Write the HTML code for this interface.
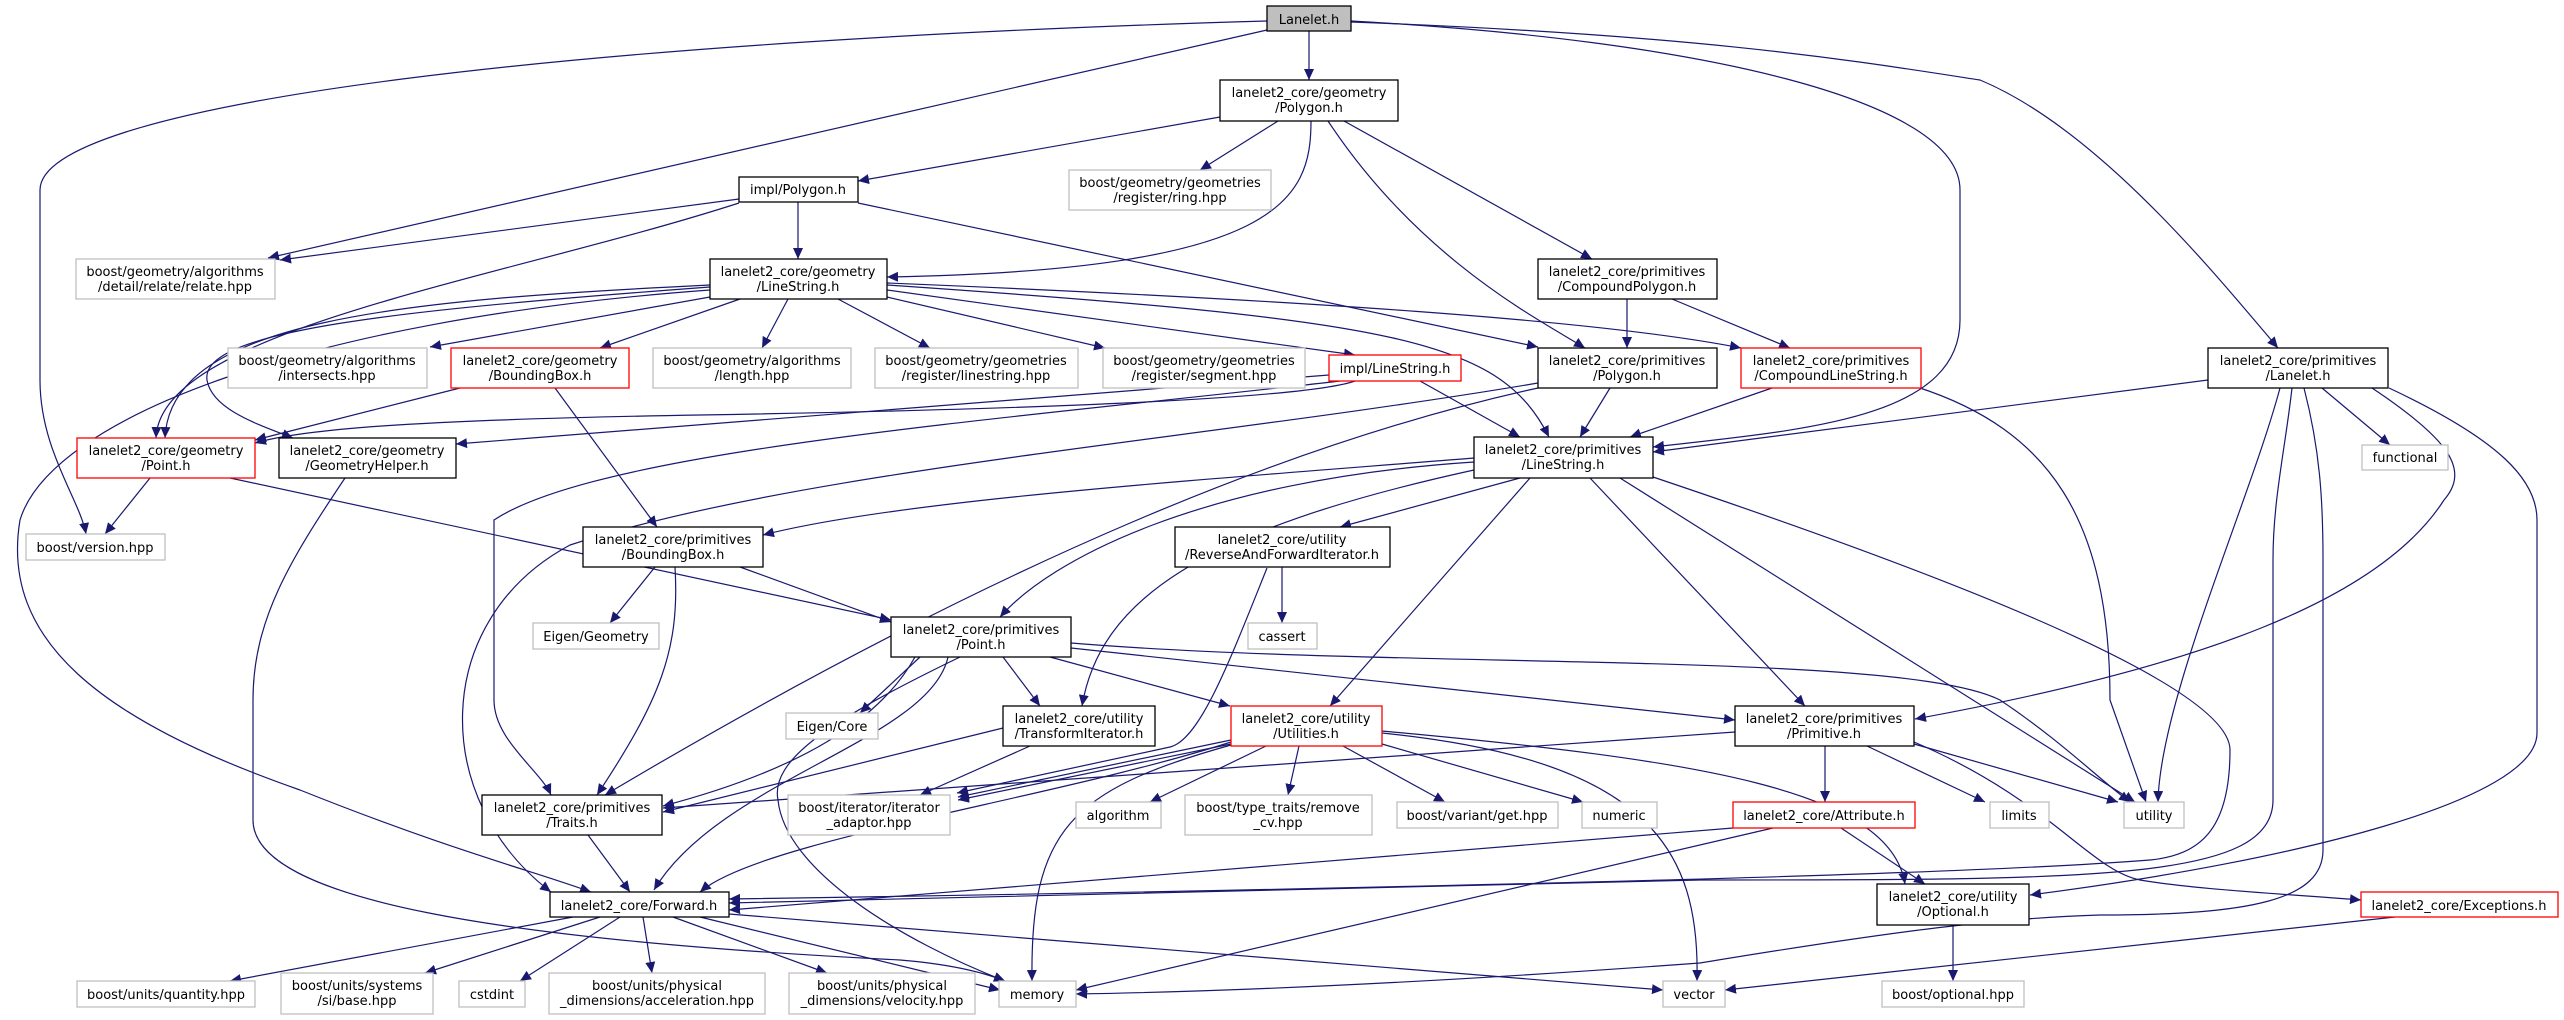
<!DOCTYPE html>
<html><head><meta charset="utf-8"><style>
html,body{margin:0;padding:0;background:#fff;}
svg{display:block;}
text{font-family:"DejaVu Sans","Liberation Sans",sans-serif;font-size:13px;fill:#000;text-anchor:middle;}
.e{fill:none;stroke:#191970;stroke-width:1.2;marker-end:url(#a);}
.n{fill:#fff;stroke:#000;stroke-width:1.3;}
.g{fill:#fff;stroke:#bfbfbf;stroke-width:1.3;}
.r{fill:#fff;stroke:#ff0000;stroke-width:1.3;}
</style></head><body>
<svg width="2564" height="1020" viewBox="0 0 2564 1020" xmlns="http://www.w3.org/2000/svg">
<defs><marker id="a" markerUnits="userSpaceOnUse" markerWidth="12" markerHeight="10" refX="11" refY="5" orient="auto"><path d="M0,0 L11,5 L0,10 z" fill="#191970"/></marker></defs>
<g>
<path class="e" d="M1309,31 L1309,80"/>
<path class="e" d="M1267,30 L268,258"/>
<path class="e" d="M1267,21 C600,40 40,100 40,190 L40,380 C40,450 80,500 86,534"/>
<path class="e" d="M1351,21 C1700,40 1960,100 1960,190 L1960,320 C1960,420 1800,430 1653,447"/>
<path class="e" d="M1351,22 C1700,35 1850,60 1980,80 C2100,130 2220,280 2278,348"/>
<path class="e" d="M1278,121 L1200,170"/>
<path class="e" d="M1311,121 C1311,200 1280,270 887,277"/>
<path class="e" d="M1220,117 L858,181"/>
<path class="e" d="M1328,121 C1420,260 1540,320 1585,348"/>
<path class="e" d="M1344,121 L1592,259"/>
<path class="e" d="M739,199 L280,260"/>
<path class="e" d="M798,202 L798,259"/>
<path class="e" d="M739,203 C500,280 160,330 156,438"/>
<path class="e" d="M858,203 L1538,347"/>
<path class="e" d="M710,297 L430,347"/>
<path class="e" d="M740,299 L600,348"/>
<path class="e" d="M788,299 L762,348"/>
<path class="e" d="M838,299 L930,348"/>
<path class="e" d="M887,297 L1105,348"/>
<path class="e" d="M887,290 L1355,355"/>
<path class="e" d="M887,285 C1400,320 1500,340 1549,437"/>
<path class="e" d="M887,283 C1300,300 1600,320 1741,348"/>
<path class="e" d="M710,285 C400,300 170,320 165,438"/>
<path class="e" d="M710,287 C400,310 200,330 207,380 C212,410 260,425 293,438"/>
<path class="e" d="M710,290 C300,320 50,420 20,520 C0,640 100,720 300,790 C450,850 530,870 591,892"/>
<path class="e" d="M150,478 L105,534"/>
<path class="e" d="M230,478 L891,620"/>
<path class="e" d="M345,478 C290,560 253,620 253,700 L253,820 C253,900 500,940 900,960 C960,965 990,975 1005,981"/>
<path class="e" d="M460,388 L255,440"/>
<path class="e" d="M555,388 L657,527"/>
<path class="e" d="M1355,381 C1300,400 1000,410 700,415 C400,420 300,430 255,443"/>
<path class="e" d="M1329,375 L456,444"/>
<path class="e" d="M1420,381 L1520,437"/>
<path class="e" d="M1340,381 C1000,420 600,450 494,520 L494,700 C494,740 540,770 551,795"/>
<path class="e" d="M1538,383 C1200,440 800,470 570,545 C430,620 430,800 551,892"/>
<path class="e" d="M1610,388 L1580,437"/>
<path class="e" d="M1538,388 C1300,440 1000,560 605,795"/>
<path class="e" d="M1627,299 L1627,348"/>
<path class="e" d="M1672,299 L1790,348"/>
<path class="e" d="M1772,388 L1630,437"/>
<path class="e" d="M1917,387 C2050,430 2110,520 2110,700 L2146,802"/>
<path class="e" d="M2208,380 L1653,452"/>
<path class="e" d="M2322,388 L2390,445"/>
<path class="e" d="M2280,388 C2250,500 2160,700 2158,802"/>
<path class="e" d="M2292,388 C2285,450 2273,500 2273,560 L2273,800 C2273,880 2100,880 1700,880 C1200,890 800,900 729,903"/>
<path class="e" d="M2304,388 C2320,450 2323,500 2323,560 L2323,850 C2323,900 2250,915 2100,915 C2000,918 1900,930 1700,963 C1400,985 1200,992 1076,994"/>
<path class="e" d="M2372,388 C2450,440 2470,470 2444,500 C2380,600 2200,667 1915,719"/>
<path class="e" d="M2389,388 C2500,440 2537,480 2537,520 L2537,733 C2537,800 2300,860 2030,895"/>
<path class="e" d="M1474,458 C1200,480 900,500 763,535"/>
<path class="e" d="M1520,478 L1340,527"/>
<path class="e" d="M1474,462 C1200,480 1050,560 1000,617"/>
<path class="e" d="M1474,470 C1200,530 1100,600 1082,706"/>
<path class="e" d="M1530,478 L1330,706"/>
<path class="e" d="M1590,478 L1805,706"/>
<path class="e" d="M1620,478 L2135,802"/>
<path class="e" d="M1653,477 C1900,560 2230,680 2230,750 C2230,830 2200,855 2150,860 C1900,880 1000,895 729,899"/>
<path class="e" d="M675,567 C680,650 660,700 597,795"/>
<path class="e" d="M655,567 L610,623"/>
<path class="e" d="M740,567 L891,622"/>
<path class="e" d="M1282,567 L1282,623"/>
<path class="e" d="M1267,568 C1230,660 1200,740 1170,747 L957,793"/>
<path class="e" d="M920,657 L860,713"/>
<path class="e" d="M1003,657 L1040,706"/>
<path class="e" d="M1050,657 L1230,706"/>
<path class="e" d="M1071,648 L1735,720"/>
<path class="e" d="M1071,643 C1400,670 1900,650 2000,700 C2060,740 2100,780 2130,802"/>
<path class="e" d="M915,657 C880,720 800,770 663,806"/>
<path class="e" d="M948,657 C930,740 720,780 654,890"/>
<path class="e" d="M960,657 C830,720 770,760 778,800 C785,870 900,940 1005,981"/>
<path class="e" d="M1030,746 L920,795"/>
<path class="e" d="M1003,728 L663,812"/>
<path class="e" d="M1231,740 L958,797"/>
<path class="e" d="M1231,744 L958,800"/>
<path class="e" d="M1231,742 C1050,800 760,840 700,892"/>
<path class="e" d="M1266,746 L1150,802"/>
<path class="e" d="M1299,746 L1288,795"/>
<path class="e" d="M1343,746 L1445,802"/>
<path class="e" d="M1382,744 L1583,802"/>
<path class="e" d="M1382,731 C1700,760 1890,790 1905,884"/>
<path class="e" d="M1382,733 C1650,760 1700,850 1697,981"/>
<path class="e" d="M1231,745 C1070,790 1030,830 1032,981"/>
<path class="e" d="M1825,746 L1825,802"/>
<path class="e" d="M1867,746 L1985,802"/>
<path class="e" d="M1914,744 L2118,802"/>
<path class="e" d="M1914,742 C2050,800 2090,870 2140,880 C2200,890 2300,895 2361,900"/>
<path class="e" d="M1735,732 L663,808"/>
<path class="e" d="M1733,828 L729,910"/>
<path class="e" d="M1773,828 L1076,990"/>
<path class="e" d="M1841,828 L1925,884"/>
<path class="e" d="M1953,925 L1953,981"/>
<path class="e" d="M2395,917 L1725,990"/>
<path class="e" d="M588,835 L630,892"/>
<path class="e" d="M573,917 L230,981"/>
<path class="e" d="M600,917 L425,973"/>
<path class="e" d="M620,917 L520,981"/>
<path class="e" d="M643,917 L652,973"/>
<path class="e" d="M673,917 L827,973"/>
<path class="e" d="M700,917 L1000,990"/>
<path class="e" d="M729,914 L1663,990"/>
</g>
<g>
<rect x="1267" y="6" width="84" height="25" fill="#bfbfbf" stroke="#000" stroke-width="1.3"/><text x="1309" y="24">Lanelet.h</text>
<rect class="n" x="1220" y="80" width="178" height="41"/><text x="1309" y="97">lanelet2_core/geometry</text><text x="1309" y="112">/Polygon.h</text>
<rect class="n" x="739" y="177" width="119" height="25"/><text x="798" y="194">impl/Polygon.h</text>
<rect class="g" x="1069" y="170" width="202" height="40"/><text x="1170" y="187">boost/geometry/geometries</text><text x="1170" y="202">/register/ring.hpp</text>
<rect class="g" x="76" y="259" width="199" height="40"/><text x="175" y="276">boost/geometry/algorithms</text><text x="175" y="291">/detail/relate/relate.hpp</text>
<rect class="n" x="710" y="259" width="177" height="40"/><text x="798" y="276">lanelet2_core/geometry</text><text x="798" y="291">/LineString.h</text>
<rect class="n" x="1538" y="259" width="179" height="40"/><text x="1627" y="276">lanelet2_core/primitives</text><text x="1627" y="291">/CompoundPolygon.h</text>
<rect class="g" x="228" y="348" width="199" height="40"/><text x="327" y="365">boost/geometry/algorithms</text><text x="327" y="380">/intersects.hpp</text>
<rect class="r" x="451" y="348" width="178" height="40"/><text x="540" y="365">lanelet2_core/geometry</text><text x="540" y="380">/BoundingBox.h</text>
<rect class="g" x="653" y="348" width="198" height="40"/><text x="752" y="365">boost/geometry/algorithms</text><text x="752" y="380">/length.hpp</text>
<rect class="g" x="875" y="348" width="203" height="40"/><text x="976" y="365">boost/geometry/geometries</text><text x="976" y="380">/register/linestring.hpp</text>
<rect class="g" x="1103" y="348" width="202" height="40"/><text x="1204" y="365">boost/geometry/geometries</text><text x="1204" y="380">/register/segment.hpp</text>
<rect class="r" x="1329" y="355" width="132" height="26"/><text x="1395" y="373">impl/LineString.h</text>
<rect class="n" x="1538" y="348" width="179" height="40"/><text x="1627" y="365">lanelet2_core/primitives</text><text x="1627" y="380">/Polygon.h</text>
<rect class="r" x="1741" y="348" width="180" height="40"/><text x="1831" y="365">lanelet2_core/primitives</text><text x="1831" y="380">/CompoundLineString.h</text>
<rect class="n" x="2208" y="348" width="180" height="40"/><text x="2298" y="365">lanelet2_core/primitives</text><text x="2298" y="380">/Lanelet.h</text>
<rect class="g" x="2362" y="445" width="86" height="25"/><text x="2405" y="462">functional</text>
<rect class="r" x="77" y="438" width="178" height="40"/><text x="166" y="455">lanelet2_core/geometry</text><text x="166" y="470">/Point.h</text>
<rect class="n" x="279" y="438" width="177" height="40"/><text x="367" y="455">lanelet2_core/geometry</text><text x="367" y="470">/GeometryHelper.h</text>
<rect class="n" x="1474" y="437" width="179" height="41"/><text x="1563" y="454">lanelet2_core/primitives</text><text x="1563" y="469">/LineString.h</text>
<rect class="g" x="26" y="534" width="139" height="26"/><text x="95" y="552">boost/version.hpp</text>
<rect class="n" x="583" y="527" width="180" height="40"/><text x="673" y="544">lanelet2_core/primitives</text><text x="673" y="559">/BoundingBox.h</text>
<rect class="n" x="1175" y="527" width="215" height="40"/><text x="1282" y="544">lanelet2_core/utility</text><text x="1282" y="559">/ReverseAndForwardIterator.h</text>
<rect class="g" x="533" y="623" width="126" height="26"/><text x="596" y="641">Eigen/Geometry</text>
<rect class="g" x="1248" y="623" width="69" height="26"/><text x="1282" y="641">cassert</text>
<rect class="n" x="891" y="617" width="180" height="40"/><text x="981" y="634">lanelet2_core/primitives</text><text x="981" y="649">/Point.h</text>
<rect class="g" x="786" y="713" width="92" height="26"/><text x="832" y="731">Eigen/Core</text>
<rect class="n" x="1003" y="706" width="152" height="40"/><text x="1079" y="723">lanelet2_core/utility</text><text x="1079" y="738">/TransformIterator.h</text>
<rect class="r" x="1231" y="706" width="151" height="40"/><text x="1306" y="723">lanelet2_core/utility</text><text x="1306" y="738">/Utilities.h</text>
<rect class="n" x="1735" y="706" width="179" height="40"/><text x="1824" y="723">lanelet2_core/primitives</text><text x="1824" y="738">/Primitive.h</text>
<rect class="n" x="482" y="795" width="180" height="40"/><text x="572" y="812">lanelet2_core/primitives</text><text x="572" y="827">/Traits.h</text>
<rect class="g" x="788" y="795" width="162" height="40"/><text x="869" y="812">boost/iterator/iterator</text><text x="869" y="827">_adaptor.hpp</text>
<rect class="g" x="1076" y="802" width="85" height="26"/><text x="1118" y="820">algorithm</text>
<rect class="g" x="1185" y="795" width="187" height="40"/><text x="1278" y="812">boost/type_traits/remove</text><text x="1278" y="827">_cv.hpp</text>
<rect class="g" x="1397" y="802" width="161" height="26"/><text x="1477" y="820">boost/variant/get.hpp</text>
<rect class="g" x="1582" y="802" width="75" height="26"/><text x="1619" y="820">numeric</text>
<rect class="r" x="1733" y="802" width="182" height="26"/><text x="1824" y="820">lanelet2_core/Attribute.h</text>
<rect class="g" x="1990" y="802" width="59" height="26"/><text x="2019" y="820">limits</text>
<rect class="g" x="2124" y="802" width="60" height="26"/><text x="2154" y="820">utility</text>
<rect class="n" x="550" y="892" width="179" height="25"/><text x="639" y="910">lanelet2_core/Forward.h</text>
<rect class="n" x="1877" y="884" width="152" height="41"/><text x="1953" y="901">lanelet2_core/utility</text><text x="1953" y="916">/Optional.h</text>
<rect class="r" x="2361" y="892" width="197" height="25"/><text x="2459" y="910">lanelet2_core/Exceptions.h</text>
<rect class="g" x="77" y="981" width="178" height="26"/><text x="166" y="999">boost/units/quantity.hpp</text>
<rect class="g" x="281" y="973" width="152" height="41"/><text x="357" y="990">boost/units/systems</text><text x="357" y="1005">/si/base.hpp</text>
<rect class="g" x="459" y="981" width="66" height="26"/><text x="492" y="999">cstdint</text>
<rect class="g" x="549" y="973" width="216" height="41"/><text x="657" y="990">boost/units/physical</text><text x="657" y="1005">_dimensions/acceleration.hpp</text>
<rect class="g" x="789" y="973" width="186" height="41"/><text x="882" y="990">boost/units/physical</text><text x="882" y="1005">_dimensions/velocity.hpp</text>
<rect class="g" x="999" y="981" width="77" height="26"/><text x="1037" y="999">memory</text>
<rect class="g" x="1663" y="981" width="62" height="26"/><text x="1694" y="999">vector</text>
<rect class="g" x="1882" y="981" width="142" height="26"/><text x="1953" y="999">boost/optional.hpp</text>
</g>
</svg>
</body></html>
